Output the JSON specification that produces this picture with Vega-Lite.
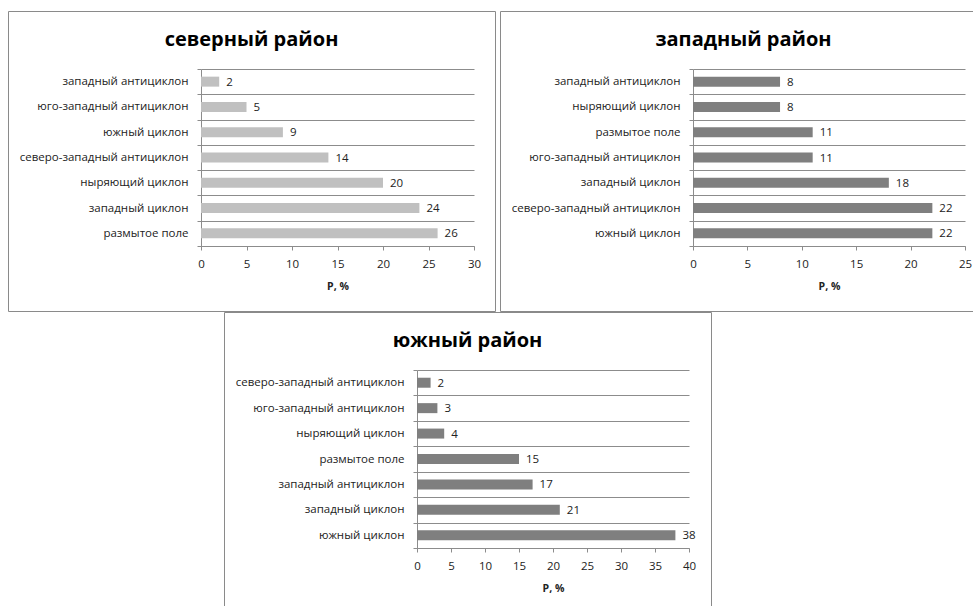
{
  "$schema": "https://vega.github.io/schema/vega-lite/v6.json",
  "padding": {"left": 7, "top": 4, "right": 0, "bottom": 0},
  "background": "white",
  "datasets": {
    "north": [
      {"type": "западный антициклон", "p": 2},
      {"type": "юго-западный антициклон", "p": 5},
      {"type": "южный циклон", "p": 9},
      {"type": "северо-западный антициклон", "p": 14},
      {"type": "ныряющий циклон", "p": 20},
      {"type": "западный циклон", "p": 24},
      {"type": "размытое поле", "p": 26}
    ],
    "west": [
      {"type": "западный антициклон", "p": 8},
      {"type": "ныряющий циклон", "p": 8},
      {"type": "размытое поле", "p": 11},
      {"type": "юго-западный антициклон", "p": 11},
      {"type": "западный циклон", "p": 18},
      {"type": "северо-западный антициклон", "p": 22},
      {"type": "южный циклон", "p": 22}
    ],
    "south": [
      {"type": "северо-западный антициклон", "p": 2},
      {"type": "юго-западный антициклон", "p": 3},
      {"type": "ныряющий циклон", "p": 4},
      {"type": "размытое поле", "p": 15},
      {"type": "западный антициклон", "p": 17},
      {"type": "западный циклон", "p": 21},
      {"type": "южный циклон", "p": 38}
    ],
    "empty": []
  },
  "spacing": -8,
  "resolve": {"scale": {"x": "independent", "y": "independent"}, "axis": {"x": "independent", "y": "independent"}},
  "vconcat": [
    {
      "spacing": 3,
      "resolve": {"scale": {"x": "independent", "y": "independent"}, "axis": {"x": "independent", "y": "independent"}},
      "hconcat": [
        {
          "width": 487,
          "height": 300,
          "data": {"name": "north"},
          "title": {"text": "северный район", "offset": -61, "baseline": "alphabetic", "anchor": "middle", "frame": "group", "fontSize": 20, "fontWeight": "bold", "font": "Open Sans", "color": "#000000"},
          "encoding": {
            "y": {"field": "type", "type": "nominal", "sort": null,
              "scale": {"range": [58, 235], "paddingInner": 0, "paddingOuter": 0},
              "axis": {"title": null, "orient": "left", "offset": -193, "tickBand": "extent", "grid": true, "tickSize": 4, "labelPadding": 9, "minExtent": 0, "maxExtent": 400, "labelLimit": 300}},
            "x": {"field": "p", "type": "quantitative",
              "scale": {"domain": [0, 30], "range": [193, 466], "nice": false},
              "axis": {"title": "P, %", "orient": "bottom", "offset": -65, "values": [0, 5, 10, 15, 20, 25, 30], "grid": false, "tickSize": 4, "labelPadding": 8, "titlePadding": 12, "minExtent": 0, "maxExtent": 400, "labelFlush": false, "labelOverlap": false}}
          },
          "layer": [
            {"mark": {"type": "bar", "size": 10, "color": "#c0c0c0"}},
            {"mark": {"type": "text", "align": "left", "baseline": "middle", "dx": 7, "dy": 1, "fontSize": 11.5, "color": "#222222"}, "encoding": {"text": {"field": "p", "type": "quantitative"}}}
          ]
        },
        {
          "width": 475,
          "height": 300,
          "data": {"name": "west"},
          "title": {"text": "западный район", "offset": -61, "dx": 6, "baseline": "alphabetic", "anchor": "middle", "frame": "group", "fontSize": 20, "fontWeight": "bold", "font": "Open Sans", "color": "#000000"},
          "encoding": {
            "y": {"field": "type", "type": "nominal", "sort": null,
              "scale": {"range": [58, 235], "paddingInner": 0, "paddingOuter": 0},
              "axis": {"title": null, "orient": "left", "offset": -193, "tickBand": "extent", "grid": true, "tickSize": 4, "labelPadding": 9, "minExtent": 0, "maxExtent": 400, "labelLimit": 300}},
            "x": {"field": "p", "type": "quantitative",
              "scale": {"domain": [0, 25], "range": [193, 465], "nice": false},
              "axis": {"title": "P, %", "orient": "bottom", "offset": -65, "values": [0, 5, 10, 15, 20, 25], "grid": false, "tickSize": 4, "labelPadding": 8, "titlePadding": 12, "minExtent": 0, "maxExtent": 400, "labelFlush": false, "labelOverlap": false}}
          },
          "layer": [
            {"mark": {"type": "bar", "size": 10, "color": "#7f7f7f"}},
            {"mark": {"type": "text", "align": "left", "baseline": "middle", "dx": 7, "dy": 1, "fontSize": 11.5, "color": "#222222"}, "encoding": {"text": {"field": "p", "type": "quantitative"}}}
          ]
        }
      ]
    },
    {
      "spacing": 3,
      "resolve": {"scale": {"x": "independent", "y": "independent"}, "axis": {"x": "independent", "y": "independent"}},
      "hconcat": [
        {
          "width": 212,
          "height": 295,
          "data": {"name": "empty"},
          "view": {"stroke": null},
          "mark": {"type": "point", "opacity": 0},
          "encoding": {}
        },
        {
          "width": 487,
          "height": 295,
          "data": {"name": "south"},
          "title": {"text": "южный район", "offset": -61, "baseline": "alphabetic", "anchor": "middle", "frame": "group", "fontSize": 20, "fontWeight": "bold", "font": "Open Sans", "color": "#000000"},
          "encoding": {
            "y": {"field": "type", "type": "nominal", "sort": null,
              "scale": {"range": [58, 236], "paddingInner": 0, "paddingOuter": 0},
              "axis": {"title": null, "orient": "left", "offset": -193, "tickBand": "extent", "grid": true, "tickSize": 4, "labelPadding": 9, "minExtent": 0, "maxExtent": 400, "labelLimit": 300}},
            "x": {"field": "p", "type": "quantitative",
              "scale": {"domain": [0, 40], "range": [193, 465], "nice": false},
              "axis": {"title": "P, %", "orient": "bottom", "offset": -59, "values": [0, 5, 10, 15, 20, 25, 30, 35, 40], "grid": false, "tickSize": 4, "labelPadding": 8, "titlePadding": 12, "minExtent": 0, "maxExtent": 400, "labelFlush": false, "labelOverlap": false}}
          },
          "layer": [
            {"mark": {"type": "bar", "size": 10, "color": "#7f7f7f"}},
            {"mark": {"type": "text", "align": "left", "baseline": "middle", "dx": 7, "dy": 1, "fontSize": 11.5, "color": "#222222"}, "encoding": {"text": {"field": "p", "type": "quantitative"}}}
          ]
        }
      ]
    }
  ],
  "config": {
    "font": "Open Sans",
    "view": {"stroke": "#8a8a8a", "strokeWidth": 1},
    "axis": {
      "labelFont": "Open Sans",
      "labelFontSize": 11.5,
      "labelColor": "#222222",
      "titleFont": "Open Sans",
      "titleFontSize": 10.5,
      "titleFontWeight": "bold",
      "titleColor": "#222222",
      "domainColor": "#8c8c8c",
      "tickColor": "#8c8c8c",
      "gridColor": "#8c8c8c",
      "gridOpacity": 1,
      "domainWidth": 1,
      "tickWidth": 1,
      "gridWidth": 1
    }
  }
}
